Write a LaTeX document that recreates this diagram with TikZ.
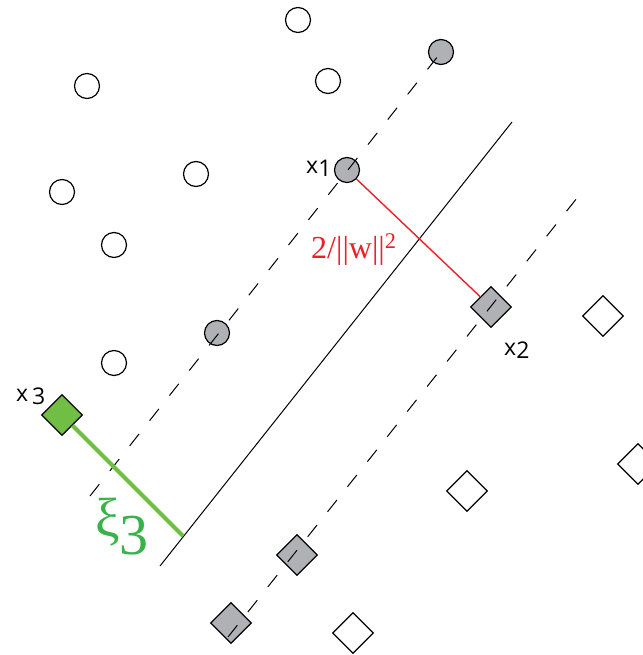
\documentclass[tikz,border=0pt]{standalone}
\usepackage{fontspec}
\setsansfont{Open Sans}
\newfontfamily\redserif{Liberation Serif}
\usetikzlibrary{shapes.geometric}
\definecolor{svgray}{RGB}{176,177,181}
\definecolor{svred}{RGB}{236,32,39}
\definecolor{svgreen}{RGB}{112,190,68}
\definecolor{svxi}{RGB}{58,178,74}
\newcommand{\lowdigit}[1]{\raisebox{-3pt}{#1}}

\begin{document}
\begin{tikzpicture}[x=1pt,y=-1pt,
    circ/.style={circle,draw,line width=1.2pt,minimum size=25pt,inner sep=0pt},
    diam/.style={diamond,draw,line width=1.2pt,minimum width=41pt,minimum height=41pt,inner sep=0pt},
    sv/.style={fill=svgray},
    lbl/.style={font=\sffamily\fontsize{23}{23}\selectfont,inner sep=0pt,anchor=base west},
    margin/.style={line width=1pt,dash pattern=on 15pt off 17pt}]
  \useasboundingbox (0,0) rectangle (642,655);
  % first class: circles
  \foreach \p [count=\i] in {(298,20),(87,86),(328,81),(62,192),(196,174),(114,245),(114,363)}
    \node[circ] (c\i) at \p {};
  \node[circ,sv] (x1) at (347,170) {};
  \node[circ,sv] (s1) at (441,52) {};
  \node[circ,sv] (s2) at (217,333) {};
  % second class: diamonds
  \foreach \p [count=\i] in {(603,316),(467,491),(353,633),(638,464)}
    \node[diam] (d\i) at \p {};
  \node[diam,sv] (x2) at (491,307) {};
  \node[diam,sv] (s3) at (297,555) {};
  \node[diam,sv] (s4) at (231,623) {};
  \node[diam,fill=svgreen] (x3) at (62,415) {};
  % hyperplane and margins
  \coordinate (ua) at (442,51);
  \coordinate (ub) at (90,496);
  \coordinate (ma) at (512,122);
  \coordinate (mb) at (160,566);
  \coordinate (la) at (581,193);
  \coordinate (lb) at (228,637);
  \coordinate (foot) at (183,536);
  \draw[margin] (ub) -- (ua);
  \draw[line width=1pt] (mb) -- (ma);
  \draw[margin] (lb) -- (la);
  \draw[svred,line width=1.4pt] (x1) -- (x2);
  \draw[svgreen,line width=4pt] (x3) -- (foot);
  % labels
  \node[lbl] (l1) at (306,173) {x\lowdigit{1}};
  \node[lbl] (l2) at (504,355) {x\lowdigit{2}};
  \node[lbl] (l3) at (16,401) {x\,\lowdigit{3}};
  \node[text=svxi,font=\redserif\fontsize{32}{32}\selectfont,anchor=base west,inner sep=0pt,text=svred] (wlab) at (311,258) {2/||w||\textsuperscript{2}};
  \node[text=svxi,font=\redserif\fontsize{55}{55}\selectfont,anchor=base west,inner sep=0pt] (xi) at (95,536) {ξ\raisebox{-18pt}{\fontsize{58}{58}\selectfont 3}};
\end{tikzpicture}
\end{document}
